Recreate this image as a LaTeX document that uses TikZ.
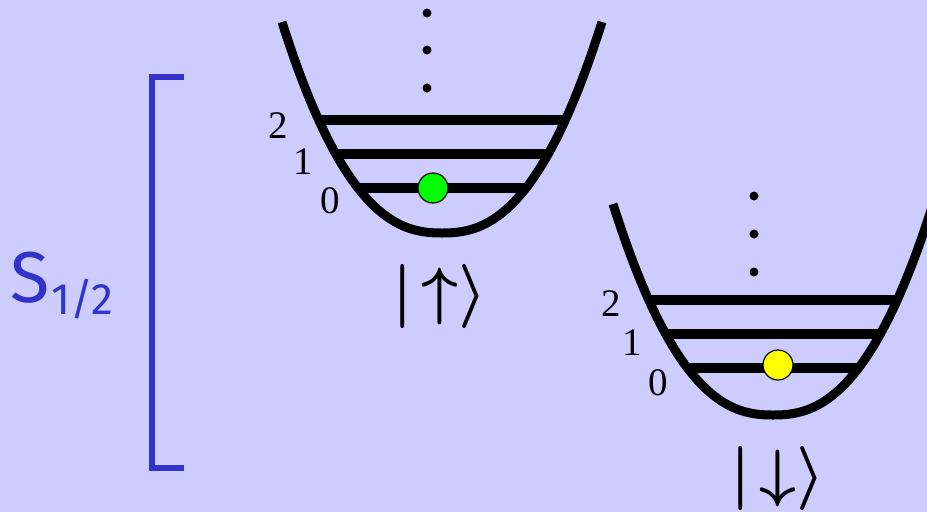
\documentclass[tikz,border=0pt]{standalone}
\usepackage{fix-cm}
\usepackage{fontspec}
\setmainfont{Liberation Serif}
\newfontfamily\lblsans{Fira Sans}
\definecolor{bgc}{RGB}{204,204,255}
\definecolor{brc}{RGB}{51,51,204}
\definecolor{ballg}{RGB}{0,255,0}
\definecolor{bally}{RGB}{255,255,0}
\tikzset{
  wellcurve/.style={line width=9pt, black},
  levelline/.style={line width=10pt, black},
  vdot/.style={circle, fill=black, inner sep=0pt, minimum size=9pt},
  ball/.style={circle, draw=black, line width=1.2pt, inner sep=0pt, minimum size=30pt},
  numlbl/.style={font=\fontsize{39}{39}\selectfont, inner sep=0pt},
  ketlbl/.style={font=\fontsize{64}{64}\selectfont\boldmath, inner sep=0pt},
}
\begin{document}
\begin{tikzpicture}[x=1pt, y=-1pt]
\fill[bgc] (0,0) rectangle (927,512);
\useasboundingbox (0,0) rectangle (927,512);
% bracket
\coordinate (bt) at (184,77);
\coordinate (bb) at (184,468);
\draw[brc, line width=6pt] (bt) -- (152,77) -- (152,468) -- (bb);
\node[brc, inner sep=0pt, anchor=base west] (slabel) at (10,302) {\lblsans\fontsize{72}{72}\selectfont S\kern2pt\raisebox{-12pt}{\fontsize{44}{44}\selectfont 1/2}};
% left well
\begin{scope}[shift={(442,233)}]
  \draw[wellcurve] plot[domain=-160:160, samples=81] (\x, {-211*(abs(\x)/160)^2.4});
  \draw[levelline] (-125,-113) -- (125,-113);
  \draw[levelline] (-108,-79) -- (108,-79);
  \draw[levelline] (-86,-45) -- (86,-45);
  \node[vdot] (ld1) at (-15,-220) {};
  \node[vdot] (ld2) at (-15,-183) {};
  \node[vdot] (ld3) at (-15,-145) {};
  \node[ball, fill=ballg] (gball) at (-9,-45) {};
  \node[numlbl] (l2) at (-164,-107) {2};
  \node[numlbl] (l1) at (-139,-71) {1};
  \node[numlbl] (l0) at (-112,-32) {0};
  \node[ketlbl] (ketup) at (-2,63) {$|\!\uparrow\rangle$};
\end{scope}
% right well
\begin{scope}[shift={(773,415)}]
  \draw[wellcurve] plot[domain=-160:160, samples=81] (\x, {-211*(abs(\x)/160)^2.4});
  \draw[levelline] (-125,-115) -- (125,-115);
  \draw[levelline] (-108,-81) -- (108,-81);
  \draw[levelline] (-86,-47) -- (86,-47);
  \node[vdot] (rd1) at (-19,-219) {};
  \node[vdot] (rd2) at (-19,-181) {};
  \node[vdot] (rd3) at (-19,-143) {};
  \node[ball, fill=bally] (yball) at (5,-50) {};
  \node[numlbl] (r2) at (-162,-111) {2};
  \node[numlbl] (r1) at (-141,-72) {1};
  \node[numlbl] (r0) at (-115,-32) {0};
  \node[ketlbl] (ketdn) at (5,63) {$|\!\downarrow\rangle$};
\end{scope}
\end{tikzpicture}
\end{document}
